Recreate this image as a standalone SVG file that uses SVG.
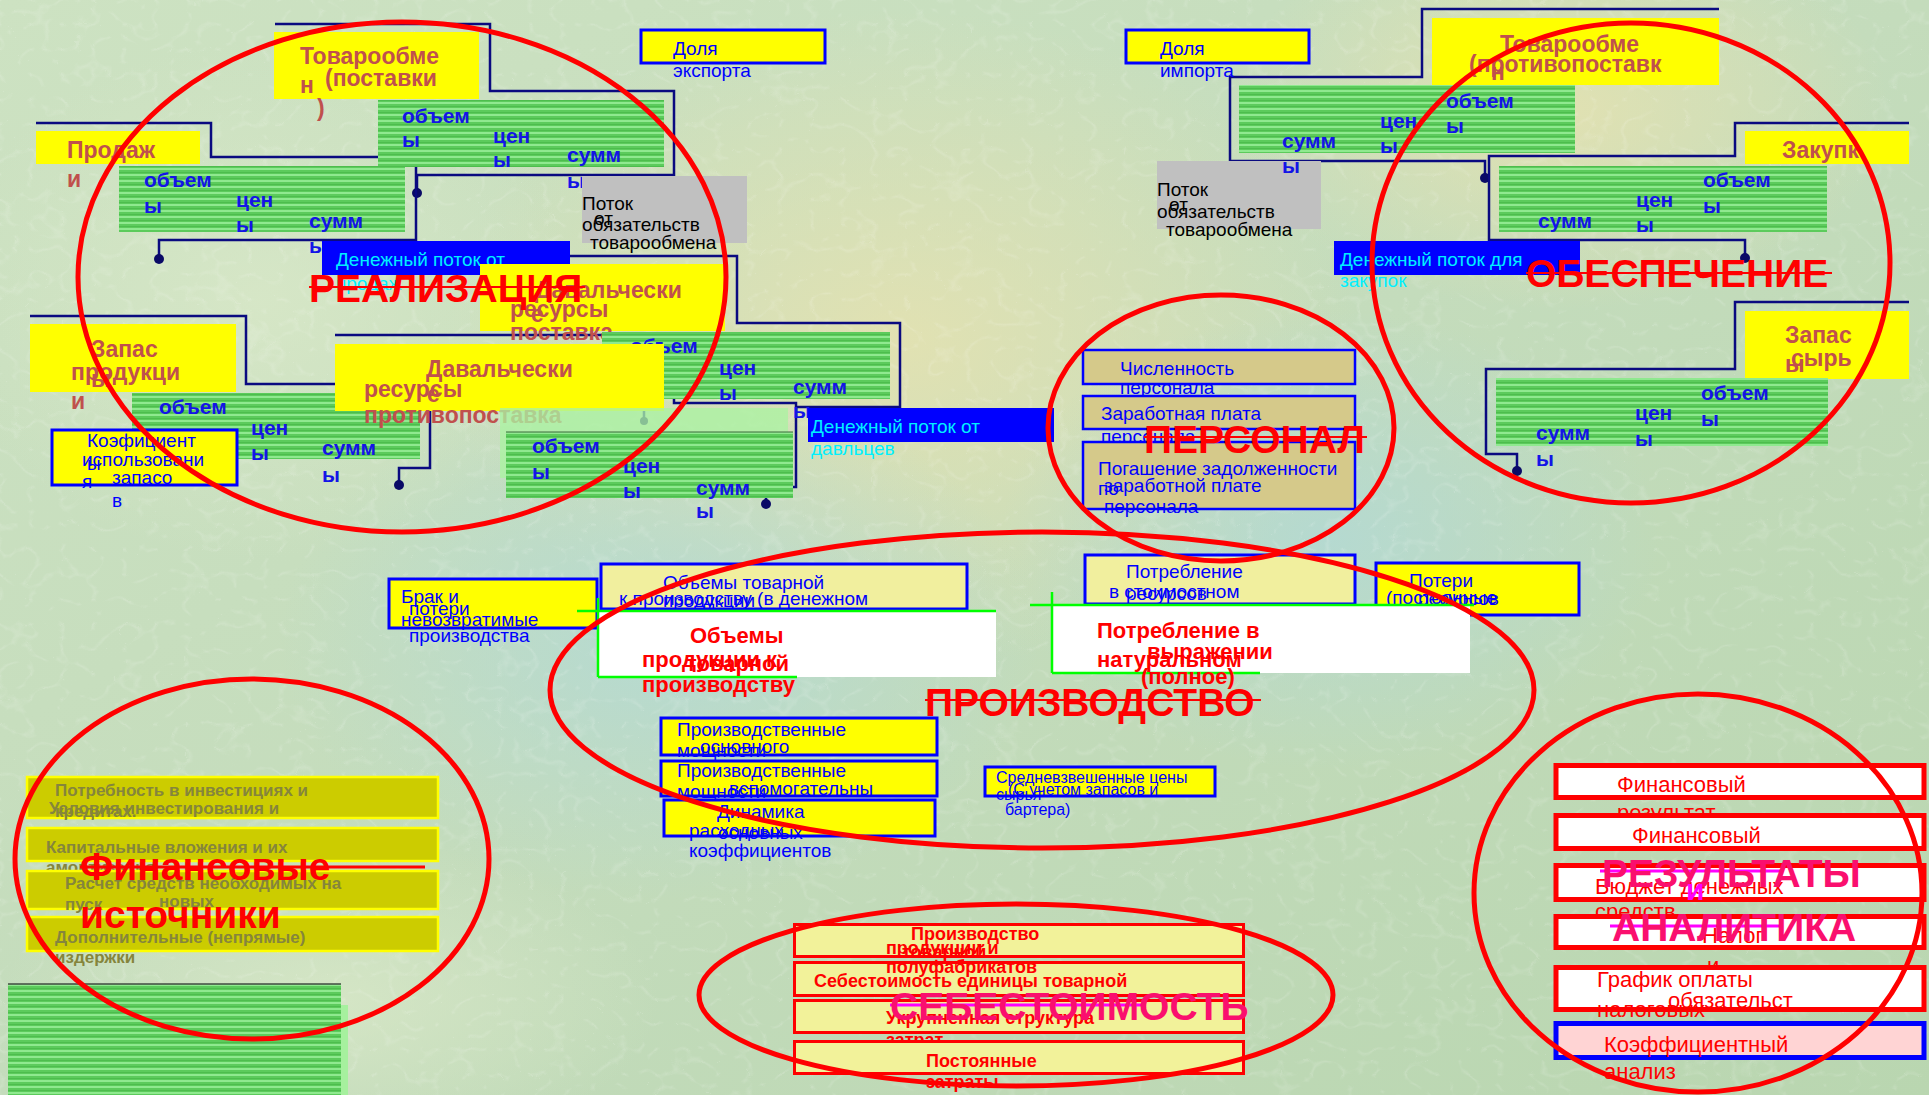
<svg xmlns="http://www.w3.org/2000/svg" width="1929" height="1095" viewBox="0 0 1929 1095">
<defs>
  <linearGradient id="bgBase" x1="0" y1="0" x2="1" y2="1">
    <stop offset="0" stop-color="#cde2c2"/>
    <stop offset="0.5" stop-color="#c4dcbc"/>
    <stop offset="1" stop-color="#b9d6b0"/>
  </linearGradient>
  <radialGradient id="spotYellow"><stop offset="0" stop-color="#e6e2b0" stop-opacity="0.85"/><stop offset="1" stop-color="#e6e2b0" stop-opacity="0"/></radialGradient>
  <radialGradient id="spotBlue"><stop offset="0" stop-color="#b2d9d6" stop-opacity="0.8"/><stop offset="1" stop-color="#b2d9d6" stop-opacity="0"/></radialGradient>
  <radialGradient id="spotLight"><stop offset="0" stop-color="#d9e8c8" stop-opacity="0.8"/><stop offset="1" stop-color="#d9e8c8" stop-opacity="0"/></radialGradient>
  <pattern id="stripes" width="10" height="6" patternUnits="userSpaceOnUse">
    <rect width="10" height="6" fill="#5ccb5c"/>
    <rect width="10" height="2" fill="#8fe98f"/>
    <rect y="4" width="10" height="1" fill="#4dbd4d"/>
  </pattern>
  <filter id="grain" filterUnits="userSpaceOnUse" x="0" y="0" width="1929" height="1095">
    <feTurbulence type="turbulence" baseFrequency="0.032 0.04" numOctaves="2" seed="7"/>
    <feColorMatrix type="matrix" values="0 0 0 0 1  0 0 0 0 1  0 0 0 0 1  -5 0 0 0 0.7"/>
  </filter>
  <style>
    text{font-family:"Liberation Sans",Arial,Helvetica,sans-serif}
    .ln{fill:none;stroke:#0a0a80;stroke-width:2.5}
    .dot{fill:#0a0a66}
    .yel{fill:#ffff00}
    .ybb{fill:#ffff00;stroke:#0000ff;stroke-width:3}
    .grn{fill:url(#stripes)}
    .gry{fill:#c0c0c0}
    .blu{fill:#0000ff}
    .tan{fill:#d5c98a;stroke:#0000ff;stroke-width:2.5}
    .lyb{fill:#f1ef9e;stroke:#0000ff;stroke-width:3}
    .wht{fill:#ffffff}
    .gl{fill:none;stroke:#00ff00;stroke-width:2.5}
    .olv{fill:#cccc00;stroke:#ffff00;stroke-width:2.5}
    .rbx{fill:#ffffff;stroke:#ff0000;stroke-width:5}
    .pbx{fill:#ffd4d4;stroke:#0000ff;stroke-width:5}
    .sbx{fill:#f2f29a;stroke:#ff0000;stroke-width:3}
    .ell{fill:none;stroke:#ff0000;stroke-width:5}
    .br{font-size:23px;font-weight:bold;fill:#c0504d}
    .gb{font-size:21px;font-weight:bold;fill:#1414e6}
    .bl{font-size:19px;fill:#0000ff}
    .bs{font-size:16px;fill:#0000ff}
    .bk{font-size:19px;fill:#000000}
    .cy{font-size:19px;fill:#00f0ff}
    .rb{font-size:22px;font-weight:bold;fill:#ff0000}
    .ol{font-size:17px;font-weight:bold;fill:#85853c}
    .rr{font-size:22px;fill:#ff0000}
    .sb{font-size:18px;font-weight:bold;fill:#ff0000}
    .ttl{font-size:39px;font-weight:bold;fill:#ff0000}
    .pk{font-size:39px;font-weight:bold;fill:#fa0f6e}
    .rl{stroke:#ff0000;stroke-width:2}
    .ml{stroke:#ff00ff;stroke-width:3}
  </style>
</defs>

<!-- textured backdrop -->
<g id="backdrop">
  <rect width="1929" height="1095" fill="url(#bgBase)"/>
  <ellipse cx="900" cy="340" rx="460" ry="330" fill="url(#spotYellow)"/>
  <ellipse cx="1560" cy="110" rx="330" ry="200" fill="url(#spotYellow)"/>
  <ellipse cx="660" cy="640" rx="380" ry="260" fill="url(#spotBlue)"/>
  <ellipse cx="1330" cy="540" rx="330" ry="230" fill="url(#spotBlue)"/>
  <ellipse cx="260" cy="300" rx="320" ry="260" fill="url(#spotLight)"/>
  <ellipse cx="330" cy="1000" rx="330" ry="160" fill="url(#spotLight)"/>
  <rect width="1929" height="1095" fill="#ffffff" filter="url(#grain)" opacity="0.2"/>
</g>

<!-- connectors -->
<g id="connectors">
  <polyline class="ln" points="275,24 490,24 490,91 674,91 674,175 417,175 417,192"/>
  <circle class="dot" cx="417" cy="193" r="5"/>
  <polyline class="ln" points="36,123 211,123 211,157 416,157 416,240 159,240 159,258"/>
  <circle class="dot" cx="159" cy="259" r="5"/>
  <polyline class="ln" points="570,256 737,256 737,323 900,323 900,407 796,407"/>
  <polyline class="ln" points="335,335 674,335 674,403 796,403 796,487 766,487 766,503"/>
  <circle class="dot" cx="766" cy="504" r="5"/>
  <line class="ln" x1="644" y1="409" x2="644" y2="418"/>
  <circle class="dot" cx="644" cy="421" r="4"/>
  <polyline class="ln" points="30,316 246,316 246,384 430,384 430,468 399,468 399,484"/>
  <circle class="dot" cx="399" cy="485" r="5"/>
  <polyline class="ln" points="1719,9 1422,9 1422,77 1230,77 1230,161 1485,161 1485,177"/>
  <circle class="dot" cx="1485" cy="178" r="5"/>
  <polyline class="ln" points="1909,123 1735,123 1735,156 1489,156 1489,240 1745,240 1745,257"/>
  <circle class="dot" cx="1745" cy="258" r="5"/>
  <polyline class="ln" points="1909,302 1735,302 1735,369 1486,369 1486,454 1517,454 1517,470"/>
  <circle class="dot" cx="1517" cy="471" r="5"/>
</g>

<!-- sales side -->
<g id="node-tovar-supply">
  <rect class="yel" x="274" y="32" width="205" height="67"/>
  <text class="br" x="300" y="64">Товарообме</text>
  <text class="br" x="300" y="93">н</text>
  <text class="br" x="325" y="86">(поставки</text>
  <text class="br" x="317" y="116">)</text>
  <rect class="grn" x="378" y="100" width="286" height="67"/>
  <text class="gb" x="402" y="123">объем</text>
  <text class="gb" x="402" y="147">ы</text>
  <text class="gb" x="493" y="143">цен</text>
  <text class="gb" x="493" y="167">ы</text>
  <text class="gb" x="567" y="162">сумм</text>
  <text class="gb" x="567" y="188">ы</text>
</g>

<g id="node-sales">
  <rect class="yel" x="36" y="131" width="164" height="33"/>
  <text class="br" x="67" y="158">Продаж</text>
  <text class="br" x="67" y="187">и</text>
  <rect class="grn" x="119" y="166" width="286" height="66"/>
  <text class="gb" x="144" y="187">объем</text>
  <text class="gb" x="144" y="213">ы</text>
  <text class="gb" x="236" y="207">цен</text>
  <text class="gb" x="236" y="232">ы</text>
  <text class="gb" x="309" y="228">сумм</text>
  <text class="gb" x="309" y="253">ы</text>
</g>

<g id="node-export-share">
  <rect class="ybb" x="641" y="30" width="184" height="33"/>
  <text class="bl" x="673" y="55">Доля</text>
  <text class="bl" x="673" y="77">экспорта</text>
</g>

<g id="node-obligations-sales">
  <rect class="gry" x="582" y="176" width="165" height="67"/>
  <text class="bk" x="582" y="210">Поток</text>
  <text class="bk" x="594" y="225">от</text>
  <text class="bk" x="582" y="231">обязательств</text>
  <text class="bk" x="590" y="249">товарообмена</text>
</g>

<g id="node-cash-sales">
  <rect class="blu" x="322" y="241" width="248" height="34"/>
  <text class="cy" x="336" y="266">Денежный поток от</text>
  <text class="cy" x="336" y="290">продаж</text>
</g>

<g id="node-tolling-supply">
  <rect class="yel" x="480" y="264" width="245" height="67"/>
  <text class="br" x="535" y="298">Давальчески</text>
  <text class="br" x="510" y="317">ресурсы</text>
  <text class="br" x="531" y="322">е</text>
  <text class="br" x="510" y="340">поставка</text>
  <rect class="grn" x="602" y="332" width="288" height="67"/>
  <text class="gb" x="630" y="353">объем</text>
  <text class="gb" x="719" y="375">цен</text>
  <text class="gb" x="719" y="400">ы</text>
  <text class="gb" x="793" y="394">сумм</text>
  <text class="gb" x="793" y="418">ы</text>
</g>

<g id="node-stock-products">
  <rect class="yel" x="30" y="324" width="206" height="68"/>
  <text class="br" x="91" y="357">Запас</text>
  <text class="br" x="71" y="380">продукци</text>
  <text class="br" x="91" y="387">ы</text>
  <text class="br" x="71" y="409">и</text>
  <rect class="grn" x="132" y="393" width="288" height="66"/>
  <text class="gb" x="159" y="414">объем</text>
  <text class="gb" x="251" y="435">цен</text>
  <text class="gb" x="251" y="460">ы</text>
  <text class="gb" x="322" y="455">сумм</text>
  <text class="gb" x="322" y="482">ы</text>
</g>

<g id="node-tolling-counter">
  <rect class="yel" x="335" y="344" width="329" height="67"/>
  <text class="br" x="426" y="377">Давальчески</text>
  <text class="br" x="364" y="397">ресурсы</text>
  <text class="br" x="427" y="402">е</text>
  <text class="br" x="364" y="423">противопоставка</text>
  <rect x="500" y="408" width="288" height="70" fill="#aaf2a2" opacity="0.78"/>
  <rect class="grn" x="506" y="432" width="287" height="66"/>
  <line x1="506" y1="432" x2="793" y2="432" stroke="#3c6a3c" stroke-width="1.2"/>
  <text class="gb" x="532" y="453">объем</text>
  <text class="gb" x="532" y="479">ы</text>
  <text class="gb" x="623" y="473">цен</text>
  <text class="gb" x="623" y="498">ы</text>
  <text class="gb" x="696" y="495">сумм</text>
  <text class="gb" x="696" y="518">ы</text>
</g>

<g id="node-stock-ratio">
  <rect class="ybb" x="52" y="430" width="185" height="55"/>
  <text class="bl" x="87" y="447">Коэфициент</text>
  <text class="bl" x="82" y="466">использовани</text>
  <text class="bl" x="87" y="470">ы</text>
  <text class="bl" x="112" y="484">запасо</text>
  <text class="bl" x="82" y="488">я</text>
  <text class="bl" x="112" y="507">в</text>
</g>

<g id="node-cash-tolling">
  <rect class="blu" x="808" y="408" width="246" height="34"/>
  <text class="cy" x="811" y="433">Денежный поток от</text>
  <text class="cy" x="811" y="455">давльцев</text>
</g>

<!-- supply side -->
<g id="node-import-share">
  <rect class="ybb" x="1126" y="30" width="183" height="33"/>
  <text class="bl" x="1160" y="55">Доля</text>
  <text class="bl" x="1160" y="77">импорта</text>
</g>

<g id="node-tovar-counter">
  <rect class="yel" x="1432" y="18" width="287" height="67"/>
  <text class="br" x="1500" y="52">Товарообме</text>
  <text class="br" x="1469" y="72">(противопоставк</text>
  <text class="br" x="1491" y="80">н</text>
  <rect class="grn" x="1239" y="85" width="336" height="68"/>
  <text class="gb" x="1446" y="108">объем</text>
  <text class="gb" x="1446" y="133">ы</text>
  <text class="gb" x="1380" y="128">цен</text>
  <text class="gb" x="1380" y="153">ы</text>
  <text class="gb" x="1282" y="148">сумм</text>
</g>

<g id="node-obligations-supply">
  <rect class="gry" x="1157" y="161" width="164" height="68"/>
  <text class="gb" x="1282" y="173">ы</text>
  <text class="bk" x="1157" y="196">Поток</text>
  <text class="bk" x="1169" y="211">от</text>
  <text class="bk" x="1157" y="218">обязательств</text>
  <text class="bk" x="1166" y="236">товарообмена</text>
</g>

<g id="node-purchases">
  <rect class="yel" x="1745" y="131" width="164" height="33"/>
  <text class="br" x="1782" y="158">Закупк</text>
  <rect class="grn" x="1499" y="166" width="328" height="66"/>
  <text class="gb" x="1703" y="187">объем</text>
  <text class="gb" x="1703" y="213">ы</text>
  <text class="gb" x="1636" y="207">цен</text>
  <text class="gb" x="1636" y="232">ы</text>
  <text class="gb" x="1538" y="228">сумм</text>
</g>

<g id="node-cash-purchases">
  <rect class="blu" x="1334" y="241" width="246" height="34"/>
  <text class="cy" x="1340" y="266">Денежный поток для</text>
  <text class="cy" x="1340" y="287">закупок</text>
</g>

<g id="node-stock-raw">
  <rect class="yel" x="1745" y="311" width="164" height="68"/>
  <text class="br" x="1785" y="343">Запас</text>
  <text class="br" x="1791" y="366">сырь</text>
  <text class="br" x="1785" y="372">ы</text>
  <rect class="grn" x="1496" y="378" width="332" height="68"/>
  <text class="gb" x="1701" y="400">объем</text>
  <text class="gb" x="1701" y="426">ы</text>
  <text class="gb" x="1635" y="420">цен</text>
  <text class="gb" x="1635" y="446">ы</text>
  <text class="gb" x="1536" y="440">сумм</text>
  <text class="gb" x="1536" y="466">ы</text>
</g>

<!-- staff -->
<g id="node-headcount">
  <rect class="tan" x="1083" y="350" width="272" height="34"/>
  <text class="bl" x="1120" y="375">Численность</text>
  <text class="bl" x="1120" y="394">персонала</text>
</g>
<g id="node-wages">
  <rect class="tan" x="1083" y="396" width="272" height="33"/>
  <text class="bl" x="1101" y="420">Заработная плата</text>
  <text class="bl" x="1101" y="443">персонала</text>
</g>
<g id="node-wage-debt">
  <rect class="tan" x="1083" y="442" width="272" height="67"/>
  <text class="bl" x="1098" y="475">Погашение задолженности</text>
  <text class="bl" x="1104" y="492">заработной плате</text>
  <text class="bl" x="1098" y="495">по</text>
  <text class="bl" x="1104" y="513">персонала</text>
</g>

<!-- production -->
<g id="node-scrap">
  <rect class="ybb" x="389" y="579" width="208" height="49"/>
  <text class="bl" x="401" y="603">Брак и</text>
  <text class="bl" x="409" y="615">потери</text>
  <text class="bl" x="401" y="626">невозвратимые</text>
  <text class="bl" x="409" y="642">производства</text>
</g>

<g id="node-output-money">
  <rect class="lyb" x="601" y="564" width="366" height="45"/>
  <text class="bl" x="663" y="589">Объемы товарной</text>
  <text class="bl" x="619" y="605">к производству (в денежном</text>
  <text class="bl" x="663" y="607">продукции</text>
</g>

<g id="node-output-volume">
  <rect class="wht" x="598" y="611" width="398" height="66"/>
  <line class="gl" x1="577" y1="611" x2="996" y2="611"/>
  <line class="gl" x1="598" y1="598" x2="598" y2="677"/>
  <line class="gl" x1="598" y1="677" x2="797" y2="677"/>
  <text class="rb" x="690" y="643">Объемы</text>
  <text class="rb" x="642" y="667">продукции к</text>
  <text class="rb" x="686" y="671">товарной</text>
  <text class="rb" x="642" y="692">производству</text>
</g>

<g id="node-consumption-cost">
  <rect class="lyb" x="1085" y="555" width="270" height="49"/>
  <text class="bl" x="1126" y="578">Потребление</text>
  <text class="bl" x="1109" y="598">в стоимостном</text>
  <text class="bl" x="1126" y="600">ресурсов</text>
  <text class="bl" x="1109" y="619">выражении</text>
</g>

<g id="node-losses">
  <rect class="ybb" x="1376" y="563" width="203" height="52"/>
  <text class="bl" x="1409" y="587">Потери</text>
  <text class="bl" x="1386" y="604">(постоянные</text>
  <text class="bl" x="1418" y="605">ресурсов</text>
</g>

<g id="node-consumption-physical">
  <rect class="wht" x="1052" y="605" width="418" height="68"/>
  <line class="gl" x1="1030" y1="605" x2="1474" y2="605"/>
  <line class="gl" x1="1052" y1="592" x2="1052" y2="673"/>
  <line class="gl" x1="1052" y1="673" x2="1260" y2="673"/>
  <text class="rb" x="1097" y="638">Потребление в</text>
  <text class="rb" x="1147" y="659">выражении</text>
  <text class="rb" x="1097" y="667">натуральном</text>
  <text class="rb" x="1141" y="684">(полное)</text>
</g>

<g id="node-capacity-main">
  <rect class="ybb" x="661" y="718" width="276" height="37"/>
  <text class="bl" x="677" y="736">Производственные</text>
  <text class="bl" x="700" y="753">основного</text>
  <text class="bl" x="677" y="757">мощности</text>
</g>
<g id="node-capacity-aux">
  <rect class="ybb" x="661" y="761" width="276" height="35"/>
  <text class="bl" x="677" y="777">Производственные</text>
  <text class="bl" x="729" y="795">вспомогательны</text>
  <text class="bl" x="677" y="798">мощности</text>
</g>
<g id="node-usage-rates">
  <rect class="ybb" x="664" y="800" width="271" height="36"/>
  <text class="bl" x="717" y="818">Динамика</text>
  <text class="bl" x="689" y="837">расходных</text>
  <text class="bl" x="718" y="839">основных</text>
  <text class="bl" x="689" y="857">коэффициентов</text>
</g>
<g id="node-avg-prices">
  <rect class="ybb" x="985" y="767" width="230" height="29"/>
  <text class="bs" x="996" y="783">Средневзвешенные цены</text>
  <text class="bs" x="1008" y="795">(С учетом запасов и</text>
  <text class="bs" x="996" y="800">сырья</text>
  <text class="bs" x="1005" y="815">бартера)</text>
</g>

<!-- financing -->
<g id="node-invest-needs">
  <rect class="olv" x="27" y="777" width="411" height="41"/>
  <text class="ol" x="55" y="796">Потребность в инвестициях и</text>
  <text class="ol" x="49" y="814">Условия инвестирования и</text>
  <text class="ol" x="55" y="817">кредитах.</text>
</g>
<g id="node-capex">
  <rect class="olv" x="27" y="828" width="411" height="33"/>
  <text class="ol" x="46" y="853">Капитальные вложения и их</text>
  <text class="ol" x="46" y="873">амортизация</text>
</g>
<g id="node-startup-funds">
  <rect class="olv" x="27" y="871" width="411" height="38"/>
  <text class="ol" x="65" y="889">Расчет средств необходимых на</text>
  <text class="ol" x="65" y="910">пуск</text>
  <text class="ol" x="159" y="907">новых</text>
</g>
<g id="node-indirect-costs">
  <rect class="olv" x="27" y="917" width="411" height="34"/>
  <text class="ol" x="55" y="943">Дополнительные (непрямые)</text>
  <text class="ol" x="55" y="963">издержки</text>
</g>
<g id="block-stripes">
  <rect x="341" y="1005" width="7" height="90" fill="#a6f09e"/>
  <rect class="grn" x="8" y="984" width="333" height="111"/>
  <line x1="8" y1="984" x2="341" y2="984" stroke="#404a40" stroke-width="1.5"/>
</g>

<!-- results -->
<g id="node-fin-result">
  <rect class="rbx" x="1556" y="765.5" width="368" height="32"/>
  <text class="rr" x="1617" y="792">Финансовый</text>
  <text class="rr" x="1617" y="820">результат</text>
</g>
<g id="node-fin-plan">
  <rect class="rbx" x="1556" y="815.5" width="368" height="33"/>
  <text class="rr" x="1632" y="843">Финансовый</text>
</g>
<g id="node-cash-budget">
  <rect class="rbx" x="1556" y="865.5" width="368" height="34"/>
  <text class="rr" x="1595" y="894">Бюджет денежных</text>
  <text class="rr" x="1595" y="919">средств</text>
</g>
<g id="node-taxes">
  <rect class="rbx" x="1556" y="916.5" width="368" height="31"/>
  <text class="rr" x="1702" y="943">Налог</text>
  <text class="rr" x="1707" y="973">и</text>
</g>
<g id="node-tax-schedule">
  <rect class="rbx" x="1556" y="967.5" width="368" height="42"/>
  <text class="rr" x="1597" y="987">График оплаты</text>
  <text class="rr" x="1668" y="1008">обязательст</text>
  <text class="rr" x="1597" y="1017">налоговых</text>
</g>
<g id="node-ratio-analysis">
  <rect class="pbx" x="1556" y="1023.5" width="368" height="34"/>
  <text class="rr" x="1604" y="1052">Коэффициентный</text>
  <text class="rr" x="1604" y="1079">анализ</text>
</g>

<!-- cost -->
<g id="node-unit-cost">
  <rect class="sbx" x="794.5" y="962.5" width="449" height="33"/>
  <text class="sb" x="814" y="987">Себестоимость единицы товарной</text>
</g>
<g id="node-production-output">
  <rect class="sbx" x="794.5" y="924.5" width="449" height="32"/>
  <text class="sb" x="911" y="940">Производство</text>
  <text class="sb" x="886" y="954">продукции и</text>
  <text class="sb" x="902" y="958">товарной</text>
  <text class="sb" x="886" y="973">полуфабрикатов</text>
</g>
<g id="node-cost-structure">
  <rect class="sbx" x="794.5" y="1000.5" width="449" height="32"/>
  <text class="sb" x="886" y="1024">Укрупненная структура</text>
  <text class="sb" x="886" y="1046">затрат</text>
</g>
<g id="node-fixed-costs">
  <rect class="sbx" x="794.5" y="1041.5" width="449" height="32"/>
  <text class="sb" x="926" y="1067">Постоянные</text>
  <text class="sb" x="926" y="1088">затраты</text>
</g>

<!-- region outlines and headings -->
<g id="region-sales">
  <ellipse class="ell" cx="402" cy="277" rx="324" ry="255"/>
  <text class="ttl" x="309" y="302" font-size="40">РЕАЛИЗАЦИЯ</text>
  <line class="rl" x1="309" y1="287" x2="585" y2="287"/>
</g>
<g id="region-supply">
  <ellipse class="ell" cx="1631" cy="263" rx="259" ry="240"/>
  <text class="ttl" x="1526" y="287">ОБЕСПЕЧЕНИЕ</text>
  <line class="rl" x1="1526" y1="273" x2="1832" y2="273"/>
</g>
<g id="region-staff">
  <ellipse class="ell" cx="1221" cy="428" rx="173" ry="133"/>
  <text class="ttl" x="1144" y="453">ПЕРСОНАЛ</text>
  <line class="rl" x1="1144" y1="437" x2="1367" y2="437"/>
</g>
<g id="region-production">
  <ellipse class="ell" cx="1042" cy="690" rx="492" ry="158"/>
  <text class="ttl" x="925" y="716">ПРОИЗВОДСТВО</text>
  <line class="rl" x1="925" y1="700" x2="1261" y2="700"/>
</g>
<g id="region-financing">
  <ellipse class="ell" cx="252" cy="859" rx="237" ry="180"/>
  <text class="ttl" x="80" y="880" font-size="40">Финансовые</text>
  <text class="ttl" x="80" y="928" font-size="40">источники</text>
  <line x1="80" y1="867" x2="425" y2="867" stroke="#ff0000" stroke-width="3"/>
</g>
<g id="region-results">
  <ellipse class="ell" cx="1698" cy="893" rx="224" ry="199"/>
  <line class="ml" x1="1600" y1="871" x2="1782" y2="871"/>
  <line class="ml" x1="1610" y1="926" x2="1780" y2="926"/>
  <text class="pk" x="1602" y="887">РЕЗУЛЬТАТЫ</text>
  <text x="1686" y="900" font-size="30" font-weight="bold" fill="#ff00ff">и</text>
  <text class="pk" x="1612" y="941">АНАЛИТИКА</text>
</g>
<g id="region-cost">
  <ellipse class="ell" cx="1016" cy="995" rx="317" ry="91"/>
  <line class="ml" x1="890" y1="1005" x2="1143" y2="1005"/>
  <text class="pk" x="890" y="1020" font-size="40">СЕБЕСТОИМОСТЬ</text>
</g>
</svg>
